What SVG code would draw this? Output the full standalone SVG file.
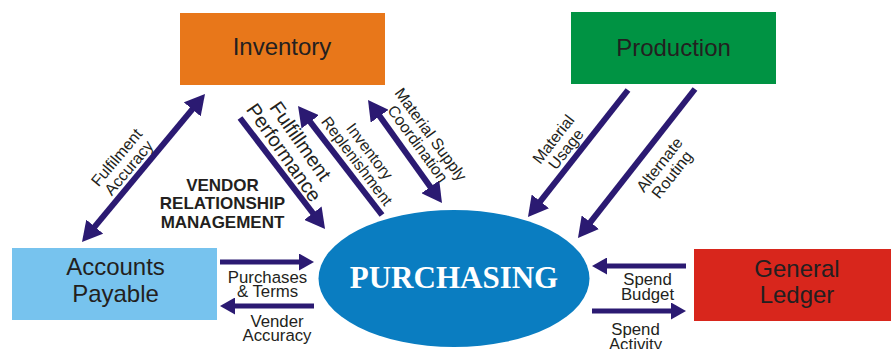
<svg xmlns="http://www.w3.org/2000/svg" width="891" height="349" viewBox="0 0 891 349">
  <defs>
    <style>
      .box-label { font-family: "Liberation Sans", Arial, sans-serif; font-size: 24px; fill: #231F20; text-anchor: middle; }
      .lbl { font-family: "Liberation Sans", Arial, sans-serif; font-size: 16px; fill: #231F20; text-anchor: middle; }
      .lbl-h { font-family: "Liberation Sans", Arial, sans-serif; font-size: 16.8px; fill: #231F20; text-anchor: middle; }
      .lbl-big { font-family: "Liberation Sans", Arial, sans-serif; font-size: 20px; fill: #231F20; text-anchor: middle; }
      .vrm { font-family: "Liberation Sans", Arial, sans-serif; font-size: 17px; font-weight: bold; fill: #231F20; text-anchor: middle; }
      .hub { font-family: "Liberation Serif", "Times New Roman", serif; font-size: 31px; font-weight: bold; fill: #FFFFFF; text-anchor: middle; }
      .conn { stroke: #2B1A72; stroke-width: 6; fill: none; }
      .conn-h { stroke: #2B1A72; stroke-width: 5; fill: none; }
    </style>
    <marker id="ah" viewBox="0 0 20 22" refX="2" refY="11" markerWidth="20" markerHeight="22" markerUnits="userSpaceOnUse" orient="auto-start-reverse">
      <path d="M0,0 L20,11 L0,22 Z" fill="#2B1A72"/>
    </marker>
    <marker id="ahs" viewBox="0 0 15 17" refX="2" refY="8.5" markerWidth="15" markerHeight="17" markerUnits="userSpaceOnUse" orient="auto-start-reverse">
      <path d="M0,0 L15,8.5 L0,17 Z" fill="#2B1A72"/>
    </marker>
  </defs>

  <g id="connectors">
    <!-- Fulfilment Accuracy (double) -->
    <line class="conn" x1="93.5" y1="228.2" x2="193.5" y2="107.8" marker-start="url(#ah)" marker-end="url(#ah)"/>
    <!-- Fulfillment Performance -->
    <line class="conn" x1="240" y1="118" x2="314.1" y2="214.7" marker-end="url(#ah)"/>
    <!-- Inventory Replenishment -->
    <line class="conn" x1="382" y1="215" x2="309" y2="120.3" marker-end="url(#ah)"/>
    <!-- Material Supply Coordination (double) -->
    <line class="conn" x1="378.5" y1="114.6" x2="431.5" y2="188.4" marker-start="url(#ah)" marker-end="url(#ah)"/>
    <!-- Material Usage -->
    <line class="conn" x1="628" y1="90" x2="539.1" y2="202.9" marker-end="url(#ah)"/>
    <!-- Alternate Routing -->
    <line class="conn" x1="695" y1="89" x2="589.1" y2="223.8" marker-end="url(#ah)"/>
    <!-- Purchases & Terms -->
    <line class="conn-h" x1="220" y1="262" x2="301" y2="262" marker-end="url(#ahs)"/>
    <!-- Vender Accuracy -->
    <line class="conn-h" x1="314" y1="306" x2="233" y2="306" marker-end="url(#ahs)"/>
    <!-- Spend Budget -->
    <line class="conn-h" x1="686" y1="266" x2="605" y2="266" marker-end="url(#ahs)"/>
    <!-- Spend Activity -->
    <line class="conn-h" x1="592" y1="311" x2="673" y2="311" marker-end="url(#ahs)"/>

    <!-- connector labels -->
    <g transform="translate(122.5,162.5) rotate(-50)">
      <text class="lbl" x="0" y="-2.3">Fulfilment</text>
      <text class="lbl" x="0" y="13.7">Accuracy</text>
    </g>
    <g transform="translate(292.5,146.5) rotate(55)">
      <text class="lbl-big" x="0" y="-2.8">Fulfillment</text>
      <text class="lbl-big" x="0" y="17.2">Performance</text>
    </g>
    <g transform="translate(363.5,156) rotate(53)">
      <text class="lbl" x="0" y="-2.3">Inventory</text>
      <text class="lbl" x="0" y="13.7">Replenishment</text>
    </g>
    <g transform="translate(424.5,139) rotate(54)">
      <text class="lbl" x="0" y="-2.3">Material Supply</text>
      <text class="lbl" x="0" y="13.7">Coordination</text>
    </g>
    <g transform="translate(559.5,144) rotate(-52)">
      <text class="lbl" x="0" y="-2.3">Material</text>
      <text class="lbl" x="0" y="13.7">Usage</text>
    </g>
    <g transform="translate(665.5,169.5) rotate(-52)">
      <text class="lbl" x="0" y="-2.3">Alternate</text>
      <text class="lbl" x="0" y="13.7">Routing</text>
    </g>
    <text class="lbl-h" x="267.5" y="282.5">Purchases</text>
    <text class="lbl-h" x="267.5" y="297">&amp; Terms</text>
    <text class="lbl-h" x="277" y="326.5">Vender</text>
    <text class="lbl-h" x="277" y="341">Accuracy</text>
    <text class="lbl-h" x="647.5" y="285">Spend</text>
    <text class="lbl-h" x="647.5" y="300">Budget</text>
    <text class="lbl-h" x="635.5" y="335">Spend</text>
    <text class="lbl-h" x="635.5" y="350">Activity</text>
  </g>

  <g id="vendor-relationship-management">
    <text class="vrm" x="222.5" y="190.7">VENDOR</text>
    <text class="vrm" x="222.5" y="209.3">RELATIONSHIP</text>
    <text class="vrm" x="222.5" y="228">MANAGEMENT</text>
  </g>

  <g id="inventory">
    <rect x="180" y="13" width="205" height="72" fill="#E8771A"/>
    <text class="box-label" x="282" y="55">Inventory</text>
  </g>

  <g id="production">
    <rect x="571" y="12" width="205" height="72" fill="#009343"/>
    <text class="box-label" x="673.5" y="56">Production</text>
  </g>

  <g id="accounts-payable">
    <rect x="12" y="248" width="205" height="72" fill="#77C3EE"/>
    <text class="box-label" x="115.5" y="275">Accounts</text>
    <text class="box-label" x="115.5" y="302.3">Payable</text>
  </g>

  <g id="general-ledger">
    <rect x="694" y="249" width="197" height="72" fill="#D8261C"/>
    <text class="box-label" x="797" y="276.7">General</text>
    <text class="box-label" x="797" y="302.7">Ledger</text>
  </g>

  <g id="purchasing">
    <ellipse cx="454" cy="278.5" rx="135.5" ry="68.5" fill="#0A7DC1"/>
    <text class="hub" x="454" y="288">PURCHASING</text>
  </g>
</svg>
